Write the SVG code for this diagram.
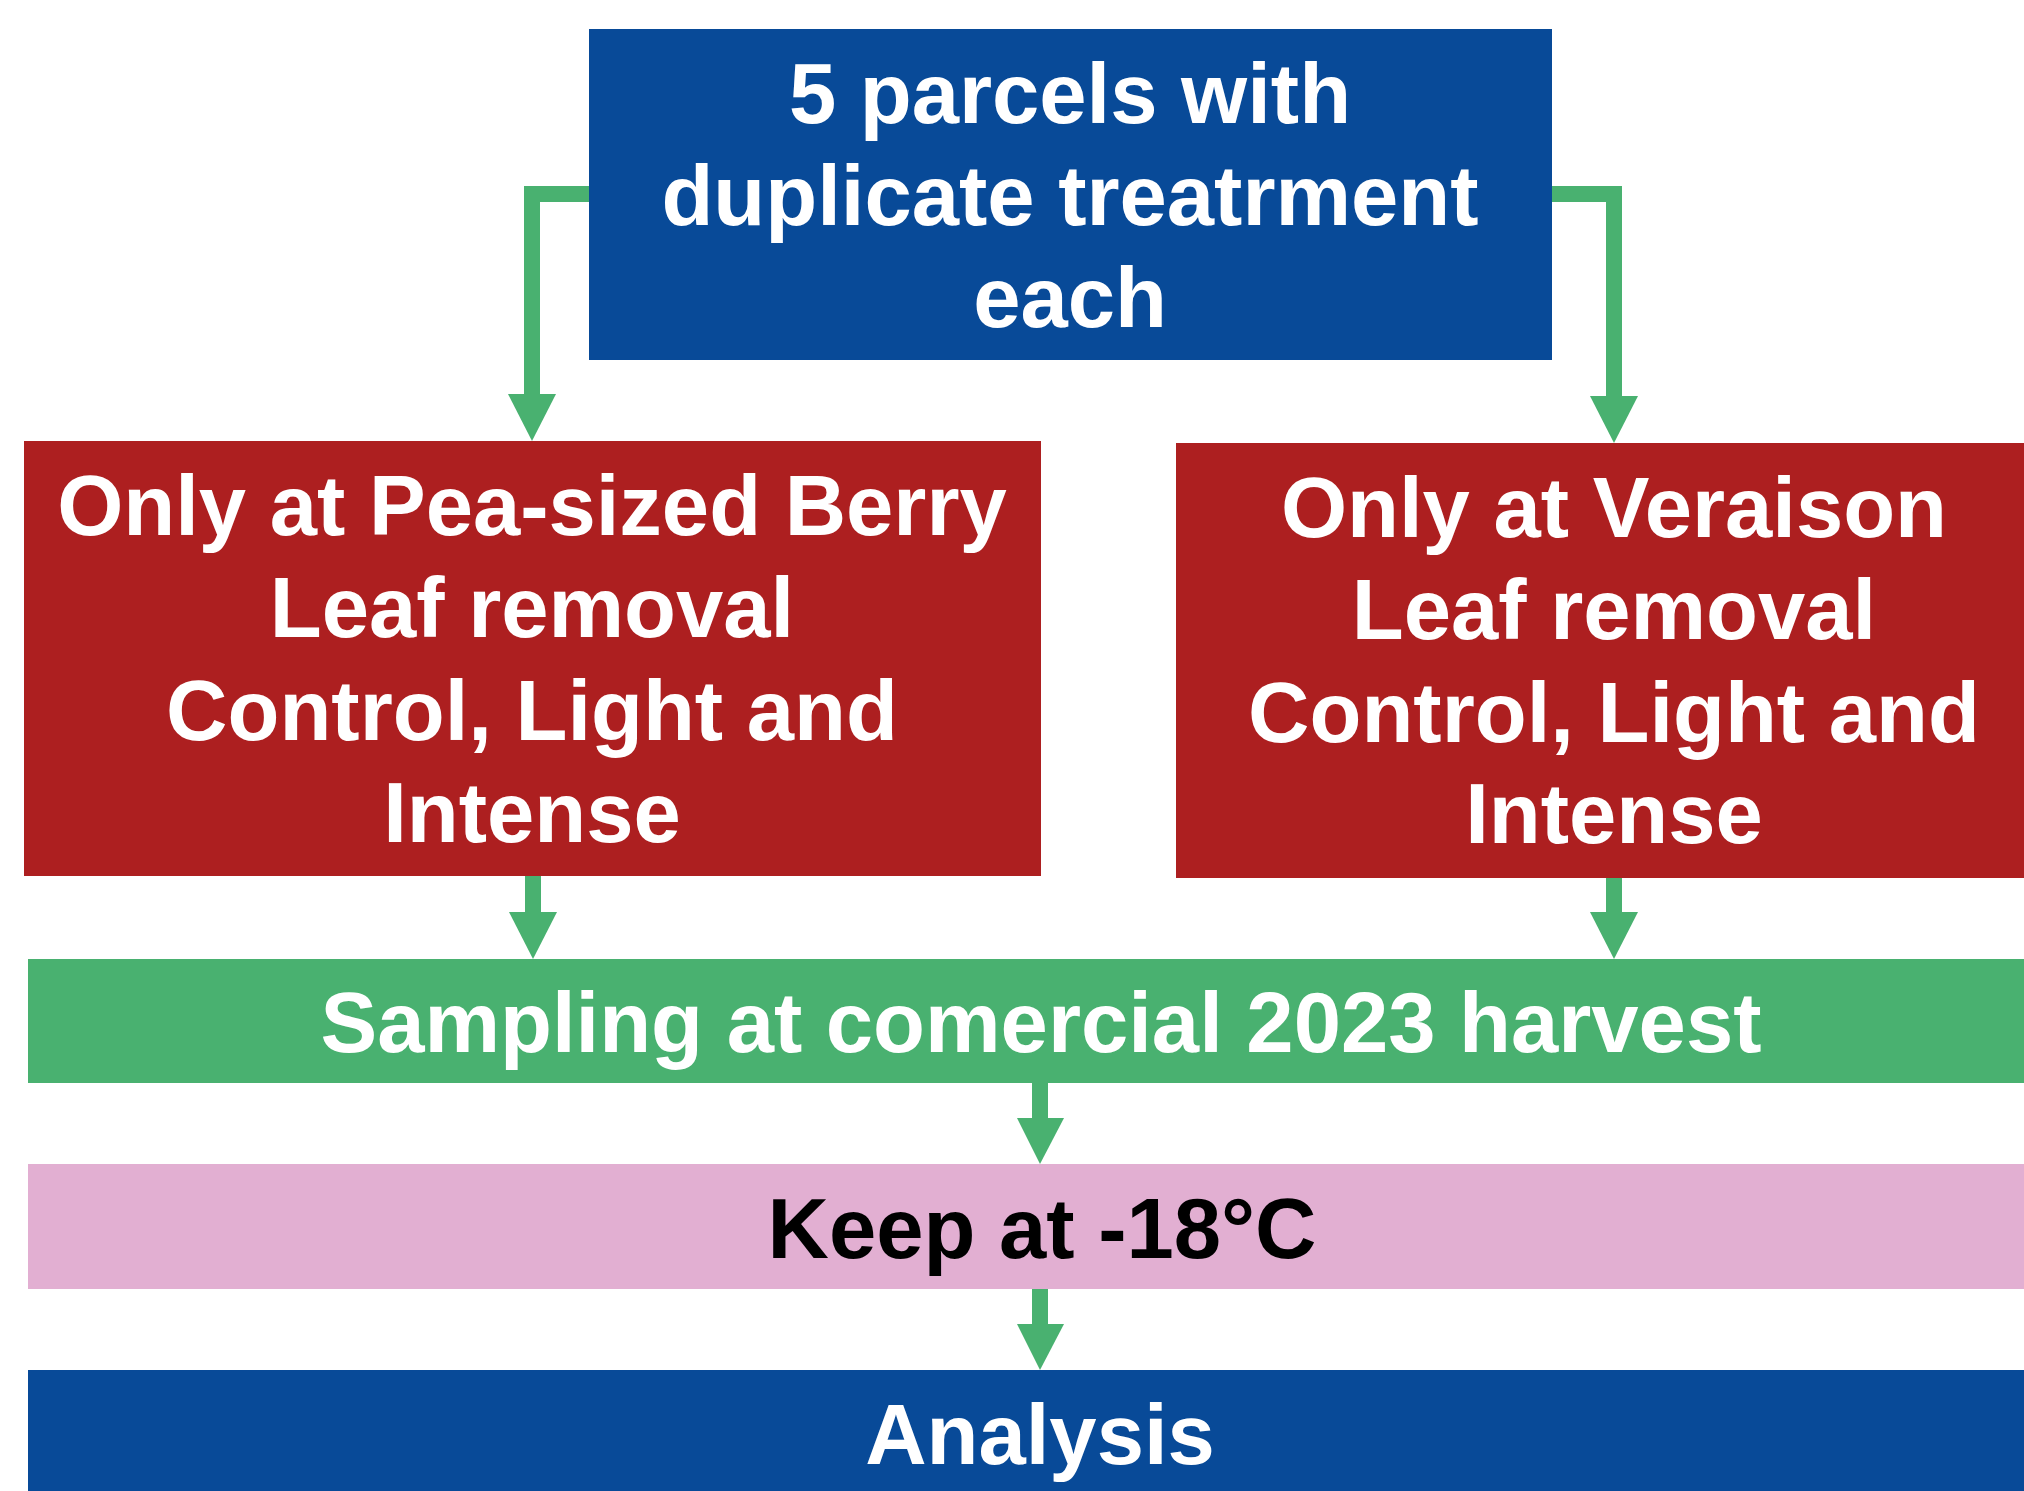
<svg xmlns="http://www.w3.org/2000/svg" width="2024" height="1491" viewBox="0 0 2024 1491">
<style>
.txt{font-family:"Liberation Sans",Arial,sans-serif;font-weight:bold;font-size:85px;text-anchor:middle;fill:#ffffff}
.dark{fill:#000000}
.blue{fill:#084A98}
.red{fill:#AD1F20}
.green{fill:#49B170}
.pink{fill:#E2AFD2}
.line{fill:none;stroke:#49B170;stroke-width:16;stroke-linejoin:miter}
.head{fill:#49B170}
</style>
<rect width="2024" height="1491" fill="#ffffff"/>
<g id="connectors">
<polyline class="line" points="589,194 532,194 532,396"/>
<polygon class="head" points="508,394 556,394 532,441"/>
<polyline class="line" points="1552,194 1614,194 1614,398"/>
<polygon class="head" points="1590,396 1638,396 1614,443"/>
<line class="line" x1="533" y1="876" x2="533" y2="914"/>
<polygon class="head" points="509,912 557,912 533,959"/>
<line class="line" x1="1614" y1="878" x2="1614" y2="914"/>
<polygon class="head" points="1590,912 1638,912 1614,959"/>
<line class="line" x1="1040" y1="1083" x2="1040" y2="1120"/>
<polygon class="head" points="1017,1118 1064,1118 1040,1164"/>
<line class="line" x1="1040" y1="1289" x2="1040" y2="1326"/>
<polygon class="head" points="1017,1324 1064,1324 1040,1370"/>
</g>
<g id="node-parcels">
<rect class="blue" x="589" y="29" width="963" height="331"/>
<text class="txt" x="1070" y="123">5 parcels with</text>
<text class="txt" x="1070" y="225">duplicate treatrment</text>
<text class="txt" x="1070" y="327">each</text>
</g>
<g id="node-pea">
<rect class="red" x="24" y="441" width="1017" height="435"/>
<text class="txt" x="532" y="535">Only at Pea-sized Berry</text>
<text class="txt" x="532" y="637">Leaf removal</text>
<text class="txt" x="532" y="740">Control, Light and</text>
<text class="txt" x="532" y="842">Intense</text>
</g>
<g id="node-veraison">
<rect class="red" x="1176" y="443" width="880" height="435"/>
<text class="txt" x="1614" y="537">Only at Veraison</text>
<text class="txt" x="1614" y="639">Leaf removal</text>
<text class="txt" x="1614" y="742">Control, Light and</text>
<text class="txt" x="1614" y="843">Intense</text>
</g>
<g id="node-sampling">
<rect class="green" x="28" y="959" width="2010" height="124"/>
<text class="txt" x="1041" y="1052">Sampling at comercial 2023 harvest</text>
</g>
<g id="node-keep">
<rect class="pink" x="28" y="1164" width="2010" height="125"/>
<text class="txt dark" x="1042" y="1258">Keep at -18°C</text>
</g>
<g id="node-analysis">
<rect class="blue" x="28" y="1370" width="2010" height="140"/>
<text class="txt" x="1040" y="1464">Analysis</text>
</g>
</svg>
